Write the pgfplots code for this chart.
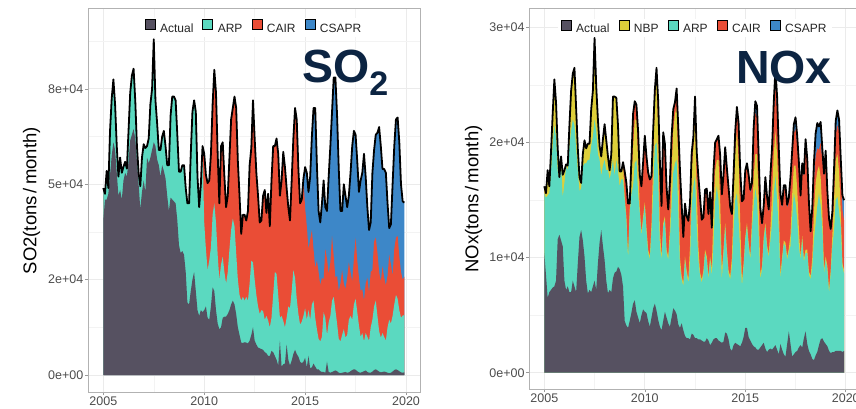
\documentclass[border=0pt]{standalone}
\usepackage{fontspec}
\setmainfont{Liberation Sans}
\usepackage{pgfplots}
\usepackage{pgfplotstable}
\pgfplotsset{compat=1.18}
\definecolor{actc}{RGB}{86,81,97}
\definecolor{arpc}{RGB}{91,217,192}
\definecolor{cairc}{RGB}{234,77,54}
\definecolor{csaprc}{RGB}{61,135,200}
\definecolor{nbpc}{RGB}{222,207,58}
\definecolor{navy}{RGB}{12,36,66}
\definecolor{gridc}{RGB}{235,235,235}
\definecolor{gridm}{RGB}{243,243,243}
\pgfplotsset{legend image code/.code={\fill[#1] (0pt,-0.7pt) rectangle (10pt,9.3pt);}}
\pgfplotsset{gg/.style={scale only axis, tick align=outside, major tick length=3pt, minor tick length=0pt,
  xtick pos=left, ytick pos=left, tick style={color=black!40, line width=0.6pt},
  grid=both, major grid style={color=gridc, line width=0.9pt}, minor grid style={color=gridm, line width=0.5pt},
  axis line style={color=black!30, line width=0.8pt},
  ticklabel style={font=\fontsize{12.5}{14}\selectfont, text=black!70, inner sep=1.5pt},
  xtick={0,60,120,180}, xticklabels={2005,2010,2015,2020}, minor xtick={30,90,150},
  legend columns=-1,
  legend style={draw=none, fill=white, anchor=center, font=\fontsize{12}{14}\selectfont, text=black!85,
    /tikz/every odd column/.append style={column sep=3pt},
    /tikz/every even column/.append style={column sep=7pt}, inner xsep=3pt, inner ysep=1pt, nodes={inner sep=2pt}}}}

\pgfplotstableread{
m A B C D
0 40.6 49 49 49
1 46 47.5 47.5 47.5
2 46 53.5 53.5 53.5
3 47.5 49 49 49
4 52.5 64 64 64
5 57.5 72.5 72.5 72.5
6 61 77.5 77.5 77.5
7 59 71 71 71
8 53 60 60 60
9 47 52 52 52
10 48.5 57 57 57
11 46 53 53 53
12 51 54.6 54.6 54.6
13 53 55.9 55.9 55.9
14 52 54.1 54.1 54.1
15 56 64 64 64
16 61.5 74 74 74
17 63 78.5 78.5 78.5
18 64.5 80.3 80.3 80.3
19 62 72 72 72
20 56 60 60 60
21 50 53 53 53
22 43.5 49.5 49.5 49.5
23 48 57 57 57
24 51 60.5 60.5 60.5
25 48 59.5 59.5 59.5
26 57 60 60 60
27 55.5 62 62 62
28 57 71 71 71
29 59 75 75 75
30 61 88 88 88
31 60 72 72 72
32 56.5 66 66 66
33 55 59 59 59
34 52 59 59 59
35 55 62.5 62.5 62.5
36 53.5 64 64 64
37 51.5 60 60 60
38 47 55 55 55
39 43 55 55 55
40 46.5 68 68 68
41 46 73 73 73
42 45.5 73 73 73
43 45 72 72 72
44 40.6 63 63 63
45 34 53.3 53.3 53.3
46 32 53.3 53.3 53.3
47 32.5 55 55 55
48 31.5 55 55 55
49 27 49 49 49
50 19 45 45 45
51 18.5 45 45 45
52 22 58 58 58
53 25 69 69 69
54 27 72 72 72
55 22 69 69 69
56 17 52 52 52
57 15.5 44 44 44
58 17 50 50 50
59 16.5 60 60 60
60 17 40 58 58
61 18 33 52.5 52.5
62 15 27.5 50.3 50.3
63 14.5 30 51 51
64 18 33.5 58 58
65 23 42 71 71
66 22 45 80 80
67 17 40 74 74
68 13.5 31.5 58 58
69 12 25 45 45
70 12.5 29 60 60
71 15 31 61 61
72 15.3 27 52 52
73 15.3 24 44 44
74 16 27 47 47
75 17 33 57 57
76 18.5 38 67 67
77 19.5 41 70 70
78 18.5 39 73 73
79 16 32 70 70
80 12.5 25 56 56
81 10.5 21 47 47
82 8.5 19.5 37 37
83 8.4 20.5 42 42
84 8.6 19.5 42 42
85 8.5 20.5 40.5 40.5
86 8.3 19.5 43 43
87 9 24 55 55
88 10.5 30 59.5 59.5
89 12.5 29.5 72 72
90 9 25 62 62
91 8 21 53 53
92 7.2 18 47 47
93 7 16 40 40
94 6.8 17 40.5 40.5
95 6.6 16.8 47 47
96 6 14.5 48.5 48.5
97 5.7 15.5 42.5 42.5
98 5 14.3 47.5 47.5
99 5 12.5 39 39
100 6.3 15 51 51
101 6 21 60 60
102 5 27 60 60
103 4 26.5 62 62
104 2.5 21 58 58
105 9 15 47 47
106 2.2 15.5 51 51
107 2.8 14.2 58.5 58.5
108 3 12.5 54.5 54.5
109 8 15 49 49
110 4 18 44 44
111 2.5 17.5 40.5 40.5
112 3.8 22 51 51
113 5.5 27.5 62 62
114 6.6 25.5 70 70
115 5.5 20 67 67
116 4.8 16 54 54
117 3.5 13.2 45 45
118 3.1 14 46 46
119 3.5 15.5 51.5 51.5
120 4.5 17.5 43.7 54.5
121 2 14.5 39 53
122 5 17 33 48
123 1.8 14.5 35.5 52
124 2 18.5 38 62.5
125 3 19.5 33 70
126 2.2 15 28 70
127 1.5 12 30 55
128 1.5 9.5 27 43
129 1 8.8 23.5 40
130 0.8 10 25.5 45
131 0.8 16.5 25 51
132 0.6 15 33 44
133 3.5 10.5 30.5 43
134 0.8 13.8 26.5 52
135 0.6 15.5 29.5 60
136 0.8 19.5 36.5 69
137 1.0 20.5 31 78
138 1.2 17 25.5 78
139 1.0 13.5 26 68
140 0.6 9.5 22 54
141 0.5 8.8 24 43
142 0.6 10.5 27.5 43
143 0.7 12 24 50
144 0.8 9.8 22.5 47
145 0.6 10.5 25.5 44
146 0.7 14.5 29.5 47
147 1.0 15.5 27 53
148 1.3 14.5 24.5 60
149 1.5 18.5 30.5 64
150 1.4 20 36 63
151 1.0 16.5 30 56
152 0.7 13 25.5 48
153 0.6 10 22 51
154 0.8 11 22.5 53
155 1.0 8.8 19.5 58
156 1.2 11 24 52
157 0.8 10 25.5 44
158 0.6 9 21.5 38
159 0.6 12.5 27 40
160 0.9 14.5 27.5 53
161 1.3 18 35 59
162 1.5 19.5 36 63
163 1.2 15.5 32 63.5
164 0.9 11.5 27 65
165 0.7 9.8 24.5 60
166 0.8 11 28.5 54
167 0.9 10 25.5 54
168 0.8 9 23.5 53
169 0.6 12.5 26 45
170 0.5 14.5 31.5 38.5
171 0.6 13.5 29 39.5
172 0.9 15.5 26 50
173 1.3 18.5 33 60
174 1.5 21 36 67
175 1.3 20 36.5 67.5
176 1.0 17 31 61
177 0.7 15 27 50
178 0.6 15.6 25 45.5
179 0.7 15.7 25.8 45.2
}\so

\pgfplotstableread{
m A B C D E
0 10.4 15.6 16.2 16.2 16.2
1 8.5 15.2 15.6 15.6 15.6
2 6.5 15.4 17.6 17.6 17.6
3 7 15.6 16.2 16.2 16.2
4 7.2 17.5 19.2 19.2 19.2
5 7.4 19.7 22.5 22.5 22.5
6 7.5 21.5 25.5 25.5 25.5
7 8 20.5 23.5 23.5 23.5
8 11.6 17.5 19.5 19.5 19.5
9 12 16.8 17.0 17.0 17.0
10 11.5 18.3 18.8 18.8 18.8
11 11 15.2 17.2 17.2 17.2
12 8 16.5 17.6 17.6 17.6
13 7.2 17.9 18.1 18.1 18.1
14 7.5 17.6 18.0 18.0 18.0
15 7 19.7 21.5 21.5 21.5
16 7 21 24.5 24.5 24.5
17 8 22 26 26 26
18 7.5 21.5 26.5 26.5 26.5
19 7 19.5 23 23 23
20 9.5 17.5 19.5 19.5 19.5
21 11.8 15.8 17 17 17
22 12.4 16 16.5 16.5 16.5
23 11.5 17.9 19 19 19
24 10.1 18.2 20.2 20.2 20.2
25 8 18.2 19.5 19.5 19.5
26 6.9 18.5 19.9 19.9 19.9
27 7.2 18.5 19.9 19.9 19.9
28 7 19.7 22.9 22.9 22.9
29 7.5 20.5 24.5 24.5 24.5
30 8 22 29.1 29.1 29.1
31 7.2 21 24.9 24.9 24.9
32 9.5 19 22 22 22
33 11.3 18.5 19.7 19.7 19.7
34 12.4 17.1 18.8 18.8 18.8
35 11 18 20.3 20.3 20.3
36 9.8 18.5 21.6 21.6 21.6
37 8 17.6 20.2 20.2 20.2
38 6.9 17.6 18.8 18.8 18.8
39 7.2 16.8 17.6 17.6 17.6
40 7 17.5 19 19 19
41 8.2 18.5 24 24 24
42 8.7 17.1 24 24 24
43 8.8 18.5 23.9 23.9 23.9
44 9.2 17.5 21.5 21.5 21.5
45 9.0 16.2 17.5 17.5 17.5
46 8.5 16.8 17.5 17.5 17.5
47 7.5 16.8 18.3 18.3 18.3
48 4.5 15.0 15.3 17.5 17.5
49 4.1 13.3 13.6 16.5 16.5
50 3.9 9.8 10.1 14.7 14.7
51 4.5 13.9 14.2 14.7 14.7
52 5.2 15.5 16.8 18.5 18.5
53 6.0 16.2 19.5 22.5 22.5
54 6.3 18.2 22.0 23.6 23.6
55 5.3 18.5 22.0 23.3 23.3
56 4.8 15.6 18.5 21.0 21.0
57 4.3 13.9 14.3 17.2 17.2
58 5.0 11.9 12.2 16.2 16.2
59 5.5 13.3 13.6 18.3 18.3
60 5.3 14.5 14.8 20.6 20.6
61 5.2 12.3 12.6 18.8 18.8
62 4.5 10.4 10.7 17.4 17.4
63 4.0 9.8 10.1 16.8 16.8
64 4.8 12.3 13.0 17.1 17.1
65 5.6 15.6 18.5 21.1 21.1
66 6.0 19.7 23.5 24.6 24.6
67 5.4 20.0 25.5 26.5 26.5
68 4.6 16.8 21.0 23.6 23.6
69 4.0 11.0 12.5 18.4 18.4
70 3.7 9.8 10.1 14.5 14.5
71 4.5 12.7 13.0 20.9 20.9
72 5.3 13.3 13.6 19.9 19.9
73 4.8 10.4 10.7 16.1 16.1
74 4.3 9.8 10.1 14.2 14.2
75 4.0 11.6 12.5 16.6 16.6
76 4.8 14.5 17.5 20.5 20.5
77 5.6 17.4 21.0 22.9 22.9
78 5.4 18.2 22.5 23.5 23.5
79 5.1 18.5 23.0 24.7 24.7
80 4.2 13.9 18.0 21.3 21.3
81 3.9 9.2 10.0 17.6 17.6
82 4.3 8.1 8.4 14.6 14.6
83 3.7 7.5 7.8 11.8 11.8
84 3.2 9.8 10.1 14.7 14.7
85 3.0 8.6 8.9 13.6 13.6
86 3.0 7.8 8.1 13.2 13.2
87 2.9 9.5 11.0 14.8 14.8
88 3.4 14.5 17.5 19.1 19.1
89 3.3 16.2 19.5 20.5 20.5
90 3.0 17.1 22.5 24.0 24.0
91 3.0 12.7 16.0 19.2 19.2
92 2.9 9.8 11.0 17.0 17.0
93 2.9 8.4 8.7 15.2 15.2
94 2.8 7.8 8.1 13.3 13.3
95 2.7 8.6 8.9 13.5 13.5
96 2.7 10.4 10.7 15.9 15.9
97 3.0 9.8 10.1 16.0 16.0
98 2.8 8.1 8.4 13.8 13.8
99 2.4 9.8 10.1 15.7 15.7
100 2.6 8.4 9.0 12.6 12.6
101 2.9 11.0 14.0 17.5 17.5
102 3.0 14.8 17.5 20.0 20.0
103 3.0 16.2 18.5 20.3 20.3
104 2.8 15.0 18.5 20.6 20.6
105 2.7 12.3 15.0 18.9 18.9
106 2.6 8.1 9.0 15.5 15.5
107 2.7 10.4 10.7 17.2 17.2
108 3.5 12.7 13.0 19.6 19.6
109 3.4 10.4 10.7 17.8 17.8
110 2.9 8.6 8.9 16.1 16.1
111 2.1 8.1 8.4 14.4 14.4
112 1.9 9.2 10.0 13.8 13.8
113 2.4 12.3 15.0 17.2 17.2
114 2.6 15.0 19.0 21.0 21.0
115 2.5 15.6 21.0 23.1 23.1
116 2.4 13.3 18.5 21.7 21.7
117 2.3 10.4 13.0 17.5 17.5
118 2.6 7.5 8.0 14.9 14.9
119 3.1 9.2 9.5 15.1 15.1
120 3.9 11.5 11.8 17.3 17.6
121 3.9 12.7 13.0 17.9 18.2
122 3.1 11 11.3 16.9 17.2
123 2.8 9.8 10.1 15.6 15.9
124 2.5 12.5 13.5 16.2 16.5
125 2.3 14.5 17 20.7 21.3
126 2.2 16 19 22.6 23.6
127 2.0 15 19 22.2 23.2
128 2.0 12 15 18.3 18.8
129 2.2 8.1 8.5 14.0 14.3
130 2.4 9 9.3 12.7 13.0
131 2.6 11.5 11.8 14.2 14.5
132 2.1 12.7 13.0 16.7 17.0
133 1.8 10.8 11.1 15.0 15.3
134 2.0 10 10.3 13.9 14.2
135 2.1 11.5 12.5 16.9 17.2
136 2.0 13 15.5 19.3 19.6
137 2.2 15.6 19 22.5 23.5
138 2.4 17.1 21 24.9 26.4
139 2.0 15 19 22.8 24.0
140 1.6 12.5 15 19.0 19.5
141 2.5 8.1 8.5 15.2 15.5
142 2.0 9.8 10.1 14.3 14.6
143 1.6 11.2 11.5 16.0 16.3
144 1.4 11 11.3 16.0 16.3
145 2.5 9.8 10.1 14.3 14.6
146 3.6 10.5 10.8 14.9 15.2
147 2.5 11 12 16.7 17.0
148 1.4 13.5 15.5 19.0 19.3
149 1.6 15.6 18 20.8 21.6
150 1.8 14.8 18 21.2 22.2
151 1.9 13.3 16 19.8 20.6
152 2.2 11 12.5 18.0 18.3
153 2.4 9.8 10.1 15.1 15.4
154 2.2 11.6 11.9 17.9 18.2
155 3.0 9.6 9.9 17.0 17.3
156 3.6 10.4 10.7 20.0 20.3
157 2.5 10.4 10.7 18.3 18.6
158 1.9 8.5 8.8 14.5 14.8
159 1.6 8.1 8.4 12.0 12.3
160 1.2 9.2 10 14.0 14.3
161 1.1 11.5 14 16.8 18.3
162 1.5 13 16.5 18.8 20.8
163 1.8 14.5 17.5 19.5 21.7
164 2.4 15.6 18 19.4 21.4
165 2.9 14.5 17 20.0 21.8
166 3.0 12.5 14 18.5 19.5
167 2.7 8.6 9 17.0 17.3
168 2.5 9.8 10.1 19.0 19.3
169 2.3 9 9.3 15.5 15.8
170 1.9 6.9 7.2 13.1 13.4
171 1.7 8.6 8.9 12.2 12.5
172 1.8 11 12 13.7 14.0
173 1.8 12.3 15 16.9 17.7
174 1.9 15 18.5 20.7 21.9
175 1.9 15.3 19 21.5 22.8
176 1.9 14 17.5 21.0 22.0
177 1.9 12.7 14 18.0 18.6
178 1.8 9.2 9.5 14.2 15.4
179 1.9 8.6 8.9 13.2 15.0
}\nox

\begin{document}
\begin{tikzpicture}[x=1pt,y=1pt]
\useasboundingbox (0,0) rectangle (856,408);
\begin{axis}[gg, at={(88pt,16pt)}, anchor=south west, width=332pt, height=384pt,
  xmin=-9.1, xmax=188.3, ymin=-4.45, ymax=96.2,
  ytick={0,25,50,75}, yticklabels={0e+00,2e+04,5e+04,8e+04}, minor ytick={12.5,37.5,62.5,87.5},
  legend style={at={(0.5,0.9487)}}]
\addplot[draw=none, fill=csaprc, forget plot] table[x=m, y=D] {\so} \closedcycle;
\addplot[draw=none, fill=cairc, forget plot] table[x=m, y=C] {\so} \closedcycle;
\addplot[draw=none, fill=arpc, forget plot] table[x=m, y=B] {\so} \closedcycle;
\addplot[draw=none, fill=actc, forget plot] table[x=m, y=A] {\so} \closedcycle;
\addplot[black, line width=1.8pt, line join=round, forget plot] table[x=m, y=D] {\so};
\addlegendimage{fill=actc}\addlegendentry{Actual}
\addlegendimage{fill=arpc}\addlegendentry{ARP}
\addlegendimage{fill=cairc}\addlegendentry{CAIR}
\addlegendimage{fill=csaprc}\addlegendentry{CSAPR}
\end{axis}
\begin{axis}[gg, at={(529.3pt,18.7pt)}, anchor=south west, width=330.7pt, height=381.3pt,
  xmin=-8.96, xmax=188.5, ymin=-1.44, ymax=31.7,
  ytick={0,10,20,30}, yticklabels={0e+00,1e+04,2e+04,3e+04}, minor ytick={5,15,25},
  legend style={at={(0.5,0.948)}}]
\addplot[draw=none, fill=csaprc, forget plot] table[x=m, y=E] {\nox} \closedcycle;
\addplot[draw=none, fill=cairc, forget plot] table[x=m, y=D] {\nox} \closedcycle;
\addplot[draw=none, fill=nbpc, forget plot] table[x=m, y=C] {\nox} \closedcycle;
\addplot[draw=none, fill=arpc, forget plot] table[x=m, y=B] {\nox} \closedcycle;
\addplot[draw=none, fill=actc, forget plot] table[x=m, y=A] {\nox} \closedcycle;
\addplot[black, line width=1.8pt, line join=round, forget plot] table[x=m, y=E] {\nox};
\addlegendimage{fill=actc}\addlegendentry{Actual}
\addlegendimage{fill=nbpc}\addlegendentry{NBP}
\addlegendimage{fill=arpc}\addlegendentry{ARP}
\addlegendimage{fill=cairc}\addlegendentry{CAIR}
\addlegendimage{fill=csaprc}\addlegendentry{CSAPR}
\end{axis}
\node[rotate=90, font=\fontsize{18.5}{20}\selectfont] at (31.5pt,207.2pt) {SO2(tons\,/\,month)};
\node[rotate=90, font=\fontsize{18.5}{20}\selectfont] at (473.5pt,209pt) {NOx(tons\,/\,month)};
\node[anchor=base west, inner sep=0pt, text=navy, font=\fontsize{46.5}{50}\selectfont\bfseries] at (302pt,326pt) {SO{\fontsize{34}{36}\selectfont\raisebox{-14pt}{2}}};
\node[anchor=base west, inner sep=0pt, text=navy, font=\fontsize{46.5}{50}\selectfont\bfseries] at (736pt,325pt) {NOx};
\end{tikzpicture}
\end{document}
